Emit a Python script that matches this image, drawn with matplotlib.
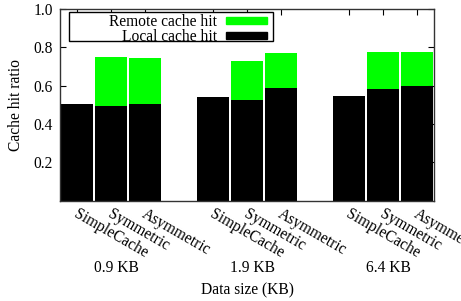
import matplotlib
matplotlib.use("Agg")
import matplotlib.pyplot as plt
from matplotlib.patches import Rectangle
import numpy as np

plt.rcParams['font.family'] = ['Liberation Serif', 'DejaVu Serif']

groups = ["0.9 KB", "1.9 KB", "6.4 KB"]
schemes = ["SimpleCache", "Symmetric", "Asymmetric"]
# local hit ratio and total (local + remote) hit ratio per group, per scheme
local = [[0.506, 0.496, 0.506],
         [0.538, 0.527, 0.585],
         [0.548, 0.580, 0.600]]
total = [[0.506, 0.747, 0.742],
         [0.538, 0.726, 0.768],
         [0.548, 0.773, 0.773]]
GREEN = "#00ff00"
FS = 11.2

W, H = 461, 301
fig = plt.figure(figsize=(W / 100, H / 100), dpi=100)
ax = fig.add_axes([60 / W, 1 - 200.5 / H, 374 / W, 191.5 / H])

pos = []
loc_vals = []
rem_vals = []
for g in range(len(groups)):
    for s in range(len(schemes)):
        pos.append(g * 4 + s)
        loc_vals.append(local[g][s])
        rem_vals.append(total[g][s] - local[g][s])
pos = np.array(pos)

ax.bar(pos, rem_vals, width=0.94, bottom=loc_vals, color=GREEN)
ax.bar(pos, loc_vals, width=0.94, color="black")

ax.set_xlim(-0.5, 10.5)
ax.set_ylim(0, 1.0)
ax.set_yticks([0.2, 0.4, 0.6, 0.8, 1.0])
ax.set_yticklabels(["0.2", "0.4", "0.6", "0.8", "1.0"], fontsize=FS)
ax.set_xticks(pos)
ax.set_xticklabels([])
ax.tick_params(direction="in", top=True, right=True, length=4, width=0.8,
               pad=5)
for sp in ax.spines.values():
    sp.set_linewidth(1.0)
    sp.set_color("#333333")

for p, lab in zip(pos, schemes * len(groups)):
    ax.text(p + 0.05, -0.03, lab, rotation=-30, ha="left", va="top",
            rotation_mode="anchor", fontsize=FS)

for g, name in enumerate(groups):
    ax.text(g * 4 + 1.15, -0.355, name, ha="center", va="center", fontsize=FS)

ax.set_ylabel("Cache hit ratio", fontsize=FS, labelpad=7)
fig.text(247 / W, 1 - 290 / H, "Data size (KB)", ha="center",
         va="center", fontsize=FS)

# gnuplot-style key box, in figure pixels
def fx(x):
    return x / W


def fy(y):
    return 1 - y / H


fig.patches.append(Rectangle((fx(69), fy(41)), (273 - 69) / W, 29 / H,
                             transform=fig.transFigure, fill=True,
                             facecolor="white", edgecolor="black", lw=1.0,
                             zorder=5))
key = [("Remote cache hit", GREEN, 20.3), ("Local cache hit", "black", 35.3)]
for label, col, yc in key:
    fig.text(fx(217), fy(yc + 1.5), label, ha="right", va="center",
             fontsize=FS, zorder=6)
    fig.patches.append(Rectangle((fx(226), fy(yc + 3.7)), 41 / W, 7.4 / H,
                                 transform=fig.transFigure, color=col,
                                 zorder=6))

fig.savefig("out.png", dpi=100)
